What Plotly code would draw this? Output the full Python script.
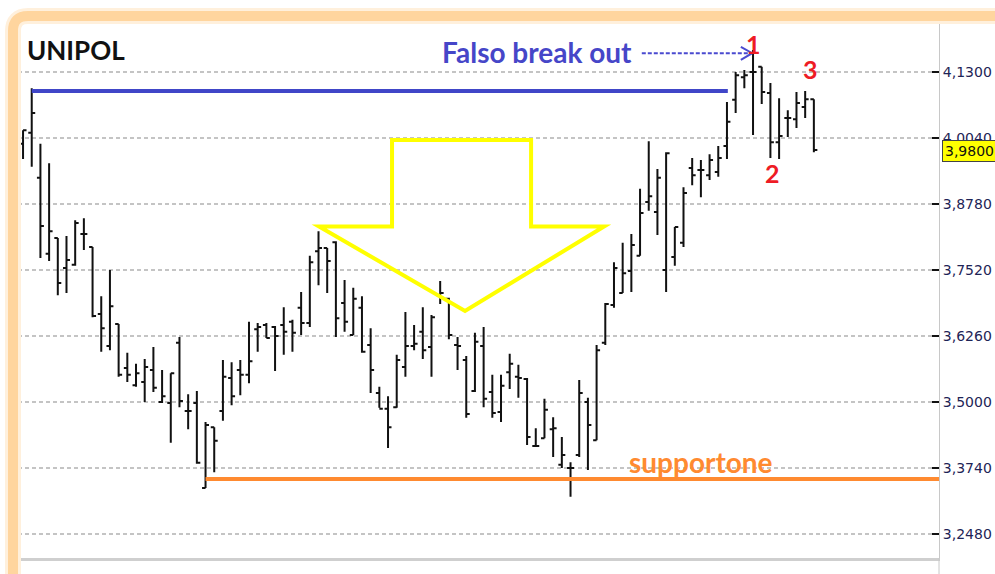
import plotly.graph_objects as go

# ---------------- data ----------------
bar_index = list(range(92))
high = [4.019, 4.099, 3.993, 3.956, 3.813, 3.817, 3.847, 3.851, 3.796, 3.702,
        3.752, 3.649, 3.594, 3.573, 3.582, 3.605, 3.561, 3.555, 3.624, 3.515,
        3.521, 3.462, 3.452, 3.580, 3.576, 3.580, 3.653, 3.651, 3.651, 3.645,
        3.681, 3.657, 3.710, 3.779, 3.826, 3.794, 3.807, 3.733, 3.718, 3.702,
        3.641, 3.529, 3.511, 3.590, 3.672, 3.647, 3.681, 3.666, 3.731, 3.699,
        3.624, 3.588, 3.632, 3.643, 3.552, 3.552, 3.592, 3.571, 3.546, 3.450,
        3.506, 3.471, 3.433, 3.385, 3.542, 3.508, 3.609, 3.689, 3.767, 3.804,
        3.821, 3.907, 3.998, 3.945, 3.977, 3.834, 3.910, 3.966, 3.962, 3.973,
        3.989, 4.073, 4.130, 4.134, 4.172, 4.140, 4.109, 4.080, 4.057, 4.092,
        4.094, 4.078]
low = [3.964, 3.949, 3.775, 3.769, 3.704, 3.708, 3.760, 3.790, 3.662, 3.596,
       3.599, 3.548, 3.538, 3.529, 3.500, 3.519, 3.498, 3.422, 3.490, 3.448,
       3.382, 3.336, 3.366, 3.464, 3.494, 3.513, 3.536, 3.596, 3.622, 3.559,
       3.590, 3.596, 3.628, 3.643, 3.723, 3.708, 3.624, 3.634, 3.628, 3.594,
       3.517, 3.489, 3.412, 3.489, 3.548, 3.599, 3.582, 3.548, 3.687, 3.620,
       3.561, 3.470, 3.519, 3.490, 3.470, 3.462, 3.525, 3.508, 3.418, 3.414,
       3.431, 3.395, 3.374, 3.319, 3.395, 3.370, 3.427, 3.609, 3.680, 3.708,
       3.710, 3.779, 3.865, 3.819, 3.710, 3.760, 3.796, 3.914, 3.891, 3.924,
       3.930, 3.964, 4.052, 4.099, 4.010, 4.069, 3.966, 3.964, 4.006, 4.023,
       4.042, 3.977]
open_ = [3.993, 4.014, 3.928, 3.783, 3.813, 3.756, 3.762, 3.821, 3.796, 3.668,
         3.607, 3.649, 3.565, 3.532, 3.538, 3.561, 3.500, 3.498, 3.613, 3.483,
         3.498, 3.336, 3.452, 3.483, 3.546, 3.561, 3.552, 3.639, 3.647, 3.643,
         3.647, 3.653, 3.680, 3.651, 3.788, 3.794, 3.805, 3.689, 3.628, 3.680,
         3.609, 3.517, 3.487, 3.490, 3.567, 3.607, 3.634, 3.605, 3.704, 3.697,
         3.609, 3.580, 3.521, 3.607, 3.519, 3.481, 3.557, 3.548, 3.544, 3.416,
         3.431, 3.448, 3.380, 3.374, 3.399, 3.500, 3.427, 3.613, 3.685, 3.708,
         3.750, 3.779, 3.882, 3.863, 3.752, 3.777, 3.804, 3.947, 3.943, 3.933,
         3.939, 3.989, 4.077, 4.120, 4.130, 4.140, 4.090, 3.996, 4.042, 4.040,
         4.063, 4.078]
close = [4.019, 4.052, 3.836, 3.826, 3.727, 3.771, 3.842, 3.821, 3.664, 3.641,
         3.683, 3.552, 3.552, 3.555, 3.567, 3.527, 3.511, 3.555, 3.502, 3.483,
         3.384, 3.456, 3.426, 3.548, 3.511, 3.552, 3.578, 3.643, 3.622, 3.626,
         3.634, 3.632, 3.651, 3.767, 3.794, 3.769, 3.660, 3.653, 3.697, 3.596,
         3.561, 3.487, 3.452, 3.580, 3.607, 3.611, 3.599, 3.662, 3.708, 3.628,
         3.607, 3.477, 3.615, 3.506, 3.479, 3.531, 3.573, 3.546, 3.433, 3.416,
         3.485, 3.450, 3.399, 3.374, 3.517, 3.456, 3.599, 3.687, 3.756, 3.746,
         3.800, 3.861, 3.893, 3.928, 3.975, 3.834, 3.899, 3.933, 3.943, 3.962,
         3.966, 4.035, 4.124, 4.124, 4.130, 4.092, 3.996, 4.008, 4.042, 4.071,
         4.078, 3.981]

y_ticks = [3.248, 3.374, 3.500, 3.626, 3.752, 3.878, 4.004, 4.130]
last_price = 3.980

# annotation levels
resistance_level = 4.094
resistance_span = (1, 81.1)
support_level = 3.353
support_span = (21.0, 105.4)
# yellow arrow outline (x in bar units, y in price)
arrow_x = [42.46, 58.46, 58.46, 66.86, 50.86, 34.06, 42.46, 42.46]
arrow_y = [4.000, 4.000, 3.835, 3.835, 3.674, 3.835, 3.835, 4.000]

# ---------------- figure ----------------
fig = go.Figure()

fig.add_trace(go.Ohlc(
    x=bar_index, open=open_, high=high, low=low, close=close,
    increasing=dict(line=dict(color="#111111", width=2)),
    decreasing=dict(line=dict(color="#111111", width=2)),
    tickwidth=0.4, hoverinfo="skip", showlegend=False,
))

shapes = []
shapes.append(dict(type="line", xref="x", yref="y",
                   x0=resistance_span[0], x1=resistance_span[1],
                   y0=resistance_level, y1=resistance_level,
                   line=dict(color="#4046c8", width=4)))
shapes.append(dict(type="line", xref="x", yref="y",
                   x0=support_span[0], x1=support_span[1],
                   y0=support_level, y1=support_level,
                   line=dict(color="#ff8a30", width=4)))
path = "M " + " L ".join(f"{x},{y}" for x, y in zip(arrow_x, arrow_y)) + " Z"
shapes.append(dict(type="path", xref="x", yref="y", path=path,
                   line=dict(color="#ffff00", width=4)))
shapes.append(dict(type="line", xref="x", yref="y", x0=71.2, x1=83.8,
                   y0=4.166, y1=4.166,
                   line=dict(color="#4a4ad0", width=2, dash="4px,2px")))
shapes.append(dict(type="path", xref="x", yref="y",
                   path="M 82.6,4.178 L 83.9,4.166 L 82.6,4.153",
                   line=dict(color="#4a4ad0", width=2)))
for w, c in [(16, "#fff0dc"), (10, "#ffd59e")]:
    shapes.append(dict(type="path", xref="paper", yref="paper",
                       path="M -0.00543,-0.05 L -0.00543,0.983 Q -0.00543,1.0112 0.0109,1.0112 L 1.07,1.0112",
                       line=dict(color=c, width=w), layer="above"))
shapes.append(dict(type="line", xref="paper", yref="paper", x0=1, x1=1,
                   y0=0, y1=-0.04, line=dict(color="#c8c8c8", width=1)))
fig.update_layout(shapes=shapes)

ann = []
ann.append(dict(xref="paper", yref="paper", x=0.0076, y=0.9478, xanchor="left",
                yanchor="middle", text="<b>UNIPOL</b>", showarrow=False,
                font=dict(family="Lato", size=26, color="#111111")))
ann.append(dict(xref="x", yref="y", x=59.15, y=4.168, text="<b>Falso break out</b>",
                showarrow=False, font=dict(family="Lato", size=28, color="#4646c8")))
for t, x, y in [("1", 84.1, 4.183), ("2", 86.19, 3.937), ("3", 90.56, 4.1357)]:
    ann.append(dict(xref="x", yref="y", x=x, y=y, text=f"<b>{t}</b>", showarrow=False,
                    font=dict(family="Lato", size=25, color="#ee1c25")))
ann.append(dict(xref="x", yref="y", x=78.0, y=3.3855, text="<b>supportone</b>",
                showarrow=False, font=dict(family="Lato", size=28, color="#ff8a30")))
ann.append(dict(xref="paper", yref="y", x=1, y=last_price, xanchor="left",
                yanchor="middle", xshift=3, text="3,9800", showarrow=False,
                bgcolor="#ffff00", bordercolor="#444444", borderwidth=1, borderpad=2,
                font=dict(family="DejaVu Sans", size=14, color="#111111")))
fig.update_layout(annotations=ann)

fig.update_layout(
    width=995, height=574,
    margin=dict(l=18, r=56, t=22, b=16, autoexpand=False),
    paper_bgcolor="white", plot_bgcolor="white",
    showlegend=False,
    separators=",.",
    xaxis=dict(range=[-0.58, 105.4], showgrid=False, zeroline=False,
               showticklabels=False, ticks="", rangeslider=dict(visible=False),
               showline=True, linecolor="#cfcfcf", linewidth=3, automargin=False),
    yaxis=dict(range=[3.2022, 4.2255], side="right", tickvals=y_ticks,
               tickformat=".4f", ticks="inside", ticklen=7, tickwidth=2,
               tickcolor="#111111", showline=True, linecolor="#c8c8c8",
               linewidth=1, showgrid=True, gridcolor="#c4c4c4", gridwidth=2,
               griddash="4px,3px", zeroline=False, automargin=False,
               tickfont=dict(family="DejaVu Sans", size=14, color="#1e2456")),
)

fig.write_html("out.html", config={"displayModeBar": False},
               post_script="document.body.style.margin='0px';document.body.style.overflow='hidden';")
